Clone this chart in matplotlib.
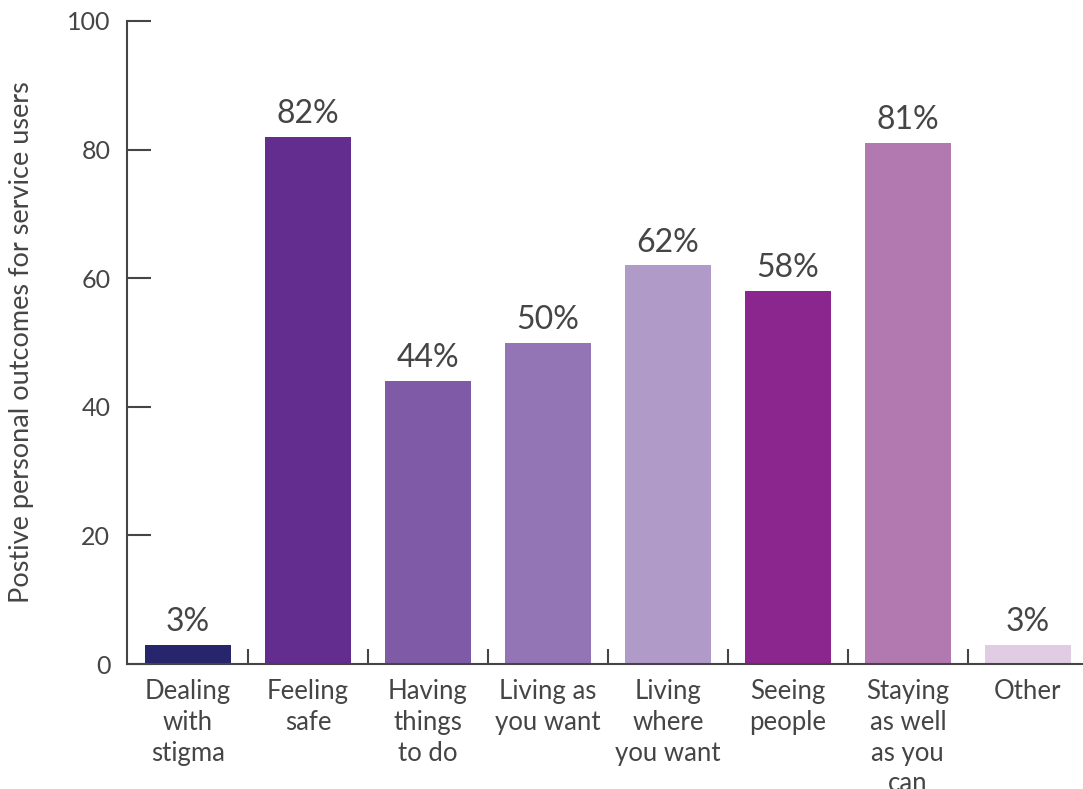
import matplotlib
matplotlib.use("Agg")
import matplotlib.pyplot as plt

categories = [
    "Dealing\nwith\nstigma",
    "Feeling\nsafe",
    "Having\nthings\nto do",
    "Living as\nyou want",
    "Living\nwhere\nyou want",
    "Seeing\npeople",
    "Staying\nas well\nas you\ncan",
    "Other",
]
values = [3, 82, 44, 50, 62, 58, 81, 3]
colors = ["#27256b", "#632c8f", "#7f5ba7", "#9374b4",
          "#b09ac8", "#8c268f", "#b279b1", "#e0cde4"]
yticks = [0, 20, 40, 60, 80, 100]

plt.rcParams["font.family"] = ["Lato", "DejaVu Sans"]
text_color = "#454545"
axis_color = "#454545"

fig = plt.figure(figsize=(10.83, 7.89), dpi=100)
ax = fig.add_axes([0.1173, 0.1584, 0.8827, 0.815])

x = list(range(len(categories)))
ax.bar(x, values, width=0.717, color=colors)
for xi, v in zip(x, values):
    ax.text(xi, v + 1.2, f"{v}%", ha="center", va="bottom",
            fontsize=23, color=text_color)

ax.set_xlim(-0.508, 7.46)
ax.set_ylim(0, 100)
ax.set_yticks(yticks)
ax.set_yticklabels([str(t) for t in yticks], fontsize=18, color=text_color)
ax.tick_params(axis="y", direction="in", length=17, width=1.5,
               color=axis_color, pad=12)

ax.set_xticks(x)
ax.set_xticklabels(categories, fontsize=18.5, color=text_color,
                   linespacing=1.28, va="top")
ax.tick_params(axis="x", length=0, pad=11)
ax.set_xticks([i + 0.5 for i in x[:-1]], minor=True)
ax.tick_params(axis="x", which="minor", direction="in", length=11, width=1.5,
               color=axis_color)

for side in ["top", "right"]:
    ax.spines[side].set_visible(False)
for side in ["left", "bottom"]:
    ax.spines[side].set_color(axis_color)
    ax.spines[side].set_linewidth(1.5)

ax.set_ylabel("Postive personal outcomes for service users", fontsize=19.5,
              color=text_color, labelpad=24)

fig.savefig("out.png", dpi=100)
